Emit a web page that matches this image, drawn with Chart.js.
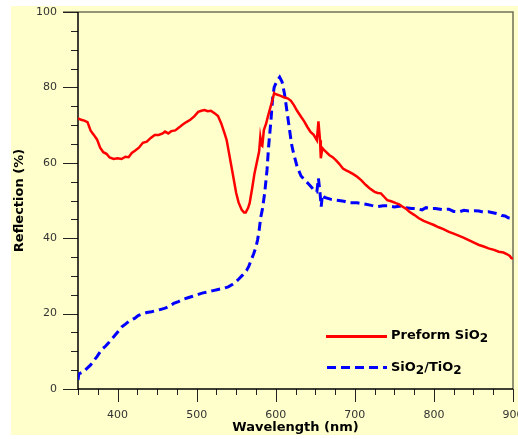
<!DOCTYPE html>
<html>
<head>
<meta charset="utf-8">
<script src="https://cdn.jsdelivr.net/npm/chart.js@4.4.0/dist/chart.umd.min.js"></script>
<style>
  body { margin: 0; background: #fff; }
  #wrap { width: 518px; height: 439px; }
</style>
</head>
<body>
<div id="wrap"><canvas id="myChart" width="518" height="439"></canvas></div>
<script>
// wavelength (nm) and reflection (%)
let preformX = [350, 354, 358, 362, 366, 370, 374, 378, 382, 386, 390, 395, 400, 405, 410, 414, 418, 422, 427, 432,
  437, 442, 447, 452, 457, 460, 464, 468, 473, 478, 482, 487, 492, 497, 502, 506, 510, 514, 518, 523,
  527, 531, 535, 538, 541, 544, 547, 550, 553, 557, 560, 562, 565, 567, 570, 573, 576, 579, 580.5, 582,
  583, 585, 588, 590, 593, 595, 598, 600, 603, 607, 611, 615, 619, 623, 627, 632, 636, 640, 644, 648,
  652, 654, 656, 657, 659, 662, 668, 672, 676, 680, 685, 689, 693, 698, 703, 708, 714, 719, 725, 729,
  733, 737, 741, 746, 752, 756, 760, 765, 769, 775, 781, 787, 794, 800, 806, 812, 819, 825, 832, 838,
  844, 850, 857, 863, 869, 876, 882, 888, 892, 896, 898, 900];
let preformY = [71.8, 71.4, 71.2, 70.8, 68.5, 67.4, 66.2, 64.0, 62.8, 62.4, 61.4, 61.0, 61.2, 61.0, 61.6, 61.5, 62.6, 63.2, 64.0, 65.3,
  65.6, 66.6, 67.4, 67.4, 67.8, 68.3, 67.8, 68.4, 68.6, 69.4, 70.1, 70.8, 71.4, 72.3, 73.5, 73.8, 74.0, 73.7, 73.8, 73.1,
  72.4, 70.5, 68.0, 66.0, 62.5, 59.0, 55.5, 52.0, 49.5, 47.5, 46.8, 46.8, 48.0, 49.3, 53.0, 57.0, 60.0, 63.0, 66.8, 64.7,
  64.5, 68.7, 70.5, 72.2, 74.5, 76.0, 78.5, 78.2, 78.0, 77.7, 77.3, 77.1, 76.5, 75.3, 73.8, 72.2, 71.0, 69.5, 68.2, 67.4,
  66.0, 71.0, 66.0, 61.2, 63.9, 63.2, 62.0, 61.5, 60.7, 59.8, 58.5, 58.0, 57.6, 57.0, 56.3, 55.4, 54.1, 53.2, 52.3, 52.0,
  51.9, 51.0, 50.1, 49.8, 49.3, 49.0, 48.4, 47.8, 47.0, 46.2, 45.3, 44.6, 44.0, 43.5, 42.9, 42.4, 41.7, 41.2, 40.6, 40.1,
  39.5, 38.9, 38.2, 37.8, 37.3, 36.9, 36.4, 36.2, 35.8, 35.3, 34.7, 34.6];

let tioX = [350, 351, 357, 361, 366, 370, 374, 380, 385, 389, 393, 397, 401, 405, 410, 414, 418, 422, 426, 431,
  437, 443, 449, 456, 461, 466, 471, 477, 483, 489, 495, 502, 508, 515, 521, 527, 534, 540, 545, 549,
  553, 558, 563, 566, 569, 572, 575, 577, 579, 581, 583, 586, 589, 591, 594, 596, 598, 601, 605, 608,
  611, 614, 617.5, 620, 622, 627, 632, 636, 641, 645, 649, 652, 654, 656, 657.5, 659, 662, 670, 680, 686,
  693, 703, 714, 721, 729, 736, 743, 750, 756, 764, 772, 779, 785, 790, 796, 802, 810, 819, 825, 832,
  838, 844, 851, 857, 863, 869, 876, 882, 886, 890, 894, 897, 900];
let tioY = [2.4, 4.0, 4.6, 5.4, 6.4, 7.5, 8.6, 10.5, 11.4, 12.3, 13.3, 14.3, 15.3, 16.4, 17.2, 17.9, 18.4, 18.8, 19.5, 19.9,
  20.3, 20.5, 20.8, 21.2, 21.5, 22.0, 22.7, 23.2, 23.8, 24.2, 24.6, 25.1, 25.5, 25.8, 26.1, 26.4, 26.7, 27.1, 27.7, 28.3,
  29.1, 30.2, 31.4, 32.6, 34.2, 35.8, 37.7, 39.5, 42.0, 45.5, 47.5, 51.9, 58.1, 64.3, 71.4, 77.0, 80.0, 81.5, 82.7, 81.5,
  78.4, 74.0, 68.7, 65.0, 63.0, 59.0, 56.5, 55.6, 54.5, 53.6, 52.5, 52.3, 55.9, 52.0, 48.4, 51.5, 50.8, 50.3, 50.0, 49.8,
  49.4, 49.4, 49.0, 48.7, 48.4, 48.6, 48.6, 48.3, 48.5, 48.1, 47.9, 47.8, 47.5, 48.1, 47.9, 47.9, 47.6, 47.7, 47.1, 47.0,
  47.4, 47.2, 47.3, 47.2, 46.9, 47.0, 46.7, 46.4, 46.0, 45.9, 45.4, 45.3, 45.0];

let xTicks = [400, 500, 600, 700, 800, 900];
let yTicks = [0, 20, 40, 60, 80, 100];
let seriesNames = ["Preform SiO", "SiO"];

function toPoints(xs, ys) {
  return xs.map(function (x, i) { return { x: x, y: ys[i] }; });
}

// tick padding would otherwise leak into the chart area
function noPad(scale) {
  scale.paddingTop = 0;
  scale.paddingBottom = 0;
  scale.paddingLeft = 0;
  scale.paddingRight = 0;
}

// yellow panel, frame, axis ticks and the legend box
let framePlugin = {
  id: "frame",
  beforeDraw: function (chart) {
    let ctx = chart.ctx;
    ctx.save();
    ctx.fillStyle = "#ffffcc";
    ctx.fillRect(11, 6, 507, 429);
    ctx.restore();
  },
  beforeDatasetsDraw: function (chart) {
    let ctx = chart.ctx, a = chart.chartArea;
    let xs = chart.scales.x, ys = chart.scales.y;
    ctx.save();
    // top and right frame
    ctx.strokeStyle = "#707058";
    ctx.lineWidth = 1.5;
    ctx.beginPath();
    ctx.moveTo(a.left - 15, a.top);
    ctx.lineTo(a.right, a.top);
    ctx.lineTo(a.right, a.bottom);
    ctx.stroke();
    // y axis ticks
    ctx.strokeStyle = "#222";
    ctx.lineWidth = 1;
    ctx.beginPath();
    for (let v = 0; v <= 100; v += 5) {
      let py = Math.round(ys.getPixelForValue(v)) + 0.5;
      ctx.moveTo(a.left - (v % 20 === 0 ? 15 : 7), py);
      ctx.lineTo(a.left, py);
    }
    // x axis ticks
    for (let v = 350; v <= 900; v += 25) {
      let px = Math.round(xs.getPixelForValue(v)) + 0.5;
      ctx.moveTo(px, a.bottom);
      ctx.lineTo(px, a.bottom + (v % 100 === 0 ? 13 : 6));
    }
    ctx.stroke();
    // axis lines
    ctx.strokeStyle = "#000";
    ctx.lineWidth = 1.5;
    ctx.beginPath();
    ctx.moveTo(a.left, a.top);
    ctx.lineTo(a.left, a.bottom);
    ctx.lineTo(a.right, a.bottom);
    ctx.stroke();
    ctx.restore();
  },
  afterDraw: function (chart) {
    let ctx = chart.ctx, a = chart.chartArea;
    let lx = a.left + 248, tx = a.left + 313;
    ctx.save();
    ctx.lineWidth = 3;
    ctx.strokeStyle = "#ff0000";
    ctx.beginPath();
    ctx.moveTo(lx, 336.5);
    ctx.lineTo(lx + 61, 336.5);
    ctx.stroke();
    ctx.strokeStyle = "#0000ff";
    ctx.setLineDash([9, 5]);
    ctx.beginPath();
    ctx.moveTo(lx + 1, 367.5);
    ctx.lineTo(lx + 61, 367.5);
    ctx.stroke();
    ctx.setLineDash([]);

    ctx.fillStyle = "#000";
    ctx.textBaseline = "alphabetic";
    let big = "bold 13px 'DejaVu Sans'", small = "bold 12px 'DejaVu Sans'";
    let parts1 = [[seriesNames[0], 0], ["2", 3]];
    let parts2 = [[seriesNames[1], 0], ["2", 3], ["/TiO", 0], ["2", 3]];
    [[parts1, 338.5], [parts2, 371]].forEach(function (row) {
      let x = tx;
      row[0].forEach(function (p) {
        ctx.font = p[1] ? small : big;
        ctx.fillText(p[0], x, row[1] + p[1]);
        x += ctx.measureText(p[0]).width;
      });
    });
    ctx.restore();
  }
};

let chartData = {
  datasets: [
    {
      label: "Preform SiO2",
      data: toPoints(preformX, preformY),
      borderColor: "#ff0000",
      borderWidth: 2.5,
      pointRadius: 0,
      tension: 0,
    },
    {
      label: "SiO2/TiO2",
      data: toPoints(tioX, tioY),
      borderColor: "#0000ff",
      borderWidth: 3,
      borderDash: [9, 5],
      pointRadius: 0,
      tension: 0,
    },
  ],
};

let tickFont = { family: "DejaVu Sans", size: 11 };
let titleFont = { family: "DejaVu Sans", size: 13, weight: "bold" };

new Chart(document.getElementById("myChart").getContext("2d"), {
  type: "line",
  data: chartData,
  plugins: [framePlugin],
  options: {
    responsive: false,
    animation: false,
    layout: { autoPadding: false, padding: { left: 0, top: 12, right: 5, bottom: 0 } },
    plugins: {
      legend: { display: false },
      tooltip: { enabled: false },
    },
    scales: {
      x: {
        type: "linear",
        min: 350,
        max: 900,
        afterBuildTicks: function (scale) {
          scale.ticks = xTicks.map(function (v) { return { value: v }; });
        },
        afterFit: function (scale) { scale.height = 50; noPad(scale); },
        grid: { display: false, drawTicks: false },
        border: { display: false },
        ticks: { font: tickFont, color: "#333", padding: 20, maxRotation: 0, autoSkip: false },
        title: { display: true, text: "Wavelength (nm)", font: titleFont, color: "#000", padding: { top: 0, bottom: 4 } },
      },
      y: {
        min: 0,
        max: 100,
        afterBuildTicks: function (scale) {
          scale.ticks = yTicks.map(function (v) { return { value: v }; });
        },
        afterFit: function (scale) { scale.width = 78; noPad(scale); },
        grid: { display: false, drawTicks: false },
        border: { display: false },
        ticks: { font: tickFont, color: "#333", padding: 21 },
        title: { display: true, text: "Reflection (%)", font: titleFont, color: "#000", padding: { top: 12, bottom: 0 } },
      },
    },
  },
});
</script>
</body>
</html>
